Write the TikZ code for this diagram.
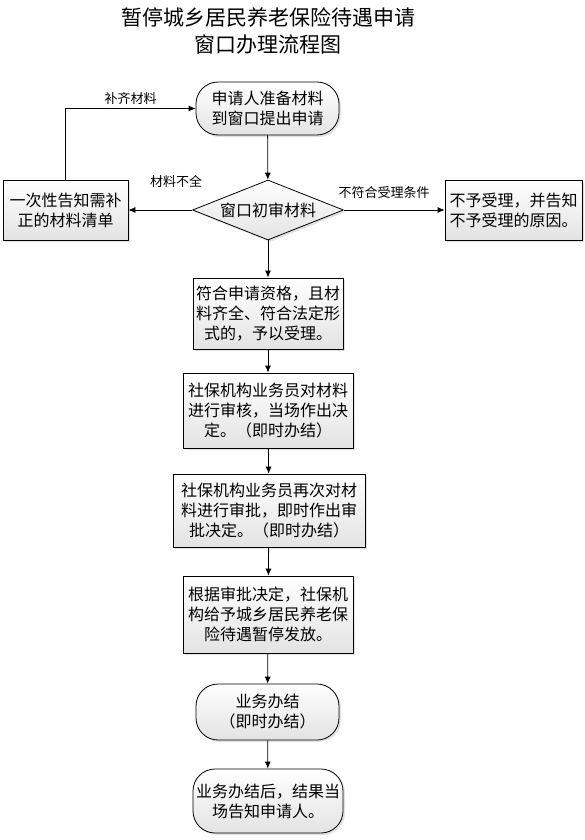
\documentclass[tikz,border=0pt]{standalone}
\usepackage{fontspec}
\setmainfont{Noto Sans CJK SC}
\usetikzlibrary{shapes.geometric,arrows.meta,shadows}
\begin{document}
\begin{tikzpicture}[x=1pt,y=-1pt,line join=round,>={Latex[length=7pt,width=6pt]},thick]
            \tikzset{shade box/.style={draw,line width=0.8pt,top color=white,bottom color=gray!22,
                drop shadow={shadow xshift=2pt,shadow yshift=-2pt,fill=gray!45},
                align=center,inner sep=1pt,font=\fontsize{16}{20}\selectfont}}
            \tikzset{procbox/.style={shade box,rectangle}}
            \tikzset{termbox/.style={shade box,rectangle,rounded corners=22pt}}
            \tikzset{decbox/.style={shade box,diamond,aspect=2.5,inner sep=0pt}}
            \tikzset{label style/.style={font=\fontsize{13}{15}\selectfont}}
            \useasboundingbox (0,0) rectangle (585,840);
            \node[align=center,font=\fontsize{21}{27}\selectfont] (title) at (268,31) {暂停城乡居民养老保险待遇申请\\窗口办理流程图};
            \node[termbox,minimum width=143pt,minimum height=53pt] (start) at (267.5,108.5) {申请人准备材料\\到窗口提出申请};
            \node[decbox,minimum width=151pt,minimum height=60pt] (check) at (268,210) {窗口初审材料};
            \node[procbox,minimum width=125pt,minimum height=60pt] (lack) at (65.5,210) {一次性告知需补\\正的材料清单};
            \node[procbox,minimum width=137pt,minimum height=60pt] (reject) at (513.5,210) {不予受理，并告知\\不予受理的原因。};
            \node[procbox,minimum width=150pt,minimum height=71pt] (accept) at (268,313.5) {符合申请资格，且材\\料齐全、符合法定形\\式的，予以受理。};
            \node[procbox,minimum width=170pt,minimum height=75pt] (review) at (268,410.5) {社保机构业务员对材料\\进行审核，当场作出决\\定。（即时办结）};
            \node[procbox,minimum width=192pt,minimum height=73pt] (approve) at (269,510.5) {社保机构业务员再次对材\\料进行审批，即时作出审\\批决定。（即时办结）};
            \node[procbox,minimum width=170pt,minimum height=77pt] (suspend) at (268,614.5) {根据审批决定，社保机\\构给予城乡居民养老保\\险待遇暂停发放。};
            \node[termbox,minimum width=143pt,minimum height=56pt] (done) at (267.5,712) {业务办结\\（即时办结）};
            \node[termbox,minimum width=150pt,minimum height=64pt] (notify) at (268,801) {业务办结后，结果当\\场告知申请人。};
            % main line
            \foreach \a/\b in {start/check,check/accept,accept/review,review/approve,approve/suspend,suspend/done,done/notify}
            \draw[->,line width=0.8pt] (\a) -- (\b);
            % branches
            \draw[->,line width=0.8pt] (check.west) -- (lack.east) node[pos=0.25,above=19pt,label style] {材料不全};
            \draw[->,line width=0.8pt] (check.east) -- (reject.west) node[pos=0.4,above=8pt,label style] {不符合受理条件};
            \draw[->,line width=0.8pt] (lack.north) |- (start.west) node[pos=0.75,above,label style] {补齐材料};
        \end{tikzpicture}
\end{document}
